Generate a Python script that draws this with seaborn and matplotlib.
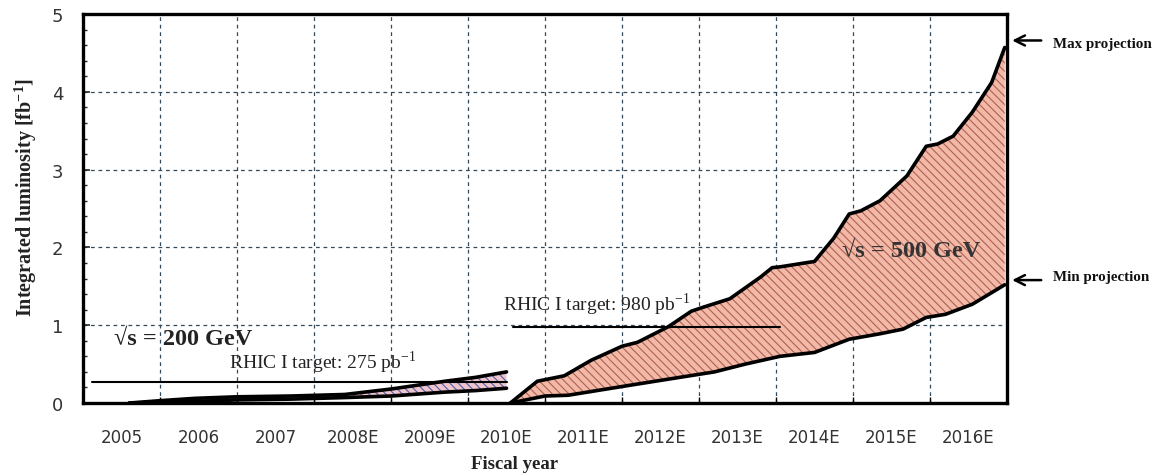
import matplotlib
matplotlib.use("Agg")
import matplotlib.pyplot as plt
import seaborn as sns
from matplotlib.ticker import MultipleLocator, FixedLocator

# fiscal years, one column each
years = ["2005", "2006", "2007", "2008E", "2009E", "2010E",
         "2011E", "2012E", "2013E", "2014E", "2015E", "2016E"]

# sqrt(s) = 200 GeV band (x in column units, y in fb^-1)
run200_x = [0.6, 1.0, 1.45, 2.0, 2.7, 3.4, 4.0, 4.7, 5.1, 5.5]
run200_hi = [0.0, 0.03, 0.06, 0.08, 0.09, 0.11, 0.18, 0.28, 0.33, 0.40]
run200_lo = [0.0, 0.01, 0.02, 0.04, 0.05, 0.07, 0.09, 0.14, 0.16, 0.19]

# sqrt(s) = 500 GeV projections
max_x = [5.55, 5.9, 6.25, 6.6, 7.0, 7.2, 7.6, 7.9, 8.05, 8.4, 8.8, 8.95,
         9.05, 9.5, 9.75, 9.95, 10.1, 10.35, 10.7, 10.95, 11.1, 11.3,
         11.55, 11.8, 11.97]
max_y = [0.0, 0.28, 0.35, 0.55, 0.73, 0.78, 0.98, 1.18, 1.23, 1.34, 1.62,
         1.74, 1.75, 1.82, 2.12, 2.43, 2.47, 2.60, 2.92, 3.30, 3.33, 3.43,
         3.74, 4.12, 4.57]
min_x = [5.55, 6.0, 6.3, 7.05, 7.75, 8.2, 8.6, 9.05, 9.5, 9.95, 10.35,
         10.65, 10.95, 11.2, 11.55, 11.97]
min_y = [0.0, 0.09, 0.10, 0.22, 0.33, 0.40, 0.50, 0.60, 0.65, 0.82, 0.89,
         0.95, 1.10, 1.14, 1.27, 1.52]

# RHIC I targets (fb^-1) and their spans
target200 = 0.275
target200_span = [0.12, 5.5]
target500 = 0.98
target500_span = [5.58, 9.05]

sns.set_theme(style="white")
plt.rcParams["font.family"] = ["Liberation Serif", "DejaVu Serif"]
plt.rcParams["hatch.linewidth"] = 0.8
plt.rcParams["mathtext.fontset"] = "custom"
plt.rcParams["mathtext.rm"] = "Liberation Serif"
plt.rcParams["mathtext.bf"] = "Liberation Serif:bold"

fig = plt.figure(figsize=(11.59, 4.77), dpi=100)
ax = fig.add_axes([0.0716, 0.153, 0.7973, 0.8155])

# bands
ax.fill(run200_x + run200_x[::-1], run200_hi + run200_lo[::-1],
        facecolor="#efc4cc", edgecolor="#4f5fa8", hatch="\\\\\\\\",
        linewidth=0, zorder=2)
ax.fill(max_x + min_x[::-1], max_y + min_y[::-1],
        facecolor="#f2b8a8", edgecolor="#b0604f", hatch="\\\\\\\\",
        linewidth=0, zorder=2)

for xs, ys in [(run200_x, run200_hi), (run200_x, run200_lo),
               (max_x, max_y), (min_x, min_y)]:
    sns.lineplot(x=xs, y=ys, color="black", linewidth=2.6, sort=False,
                 ax=ax, zorder=3)

sns.lineplot(x=target200_span, y=[target200, target200], color="black",
             linewidth=1.5, ax=ax, zorder=3)
sns.lineplot(x=target500_span, y=[target500, target500], color="black",
             linewidth=1.5, ax=ax, zorder=3)

ax.set_xlim(0, 12)
ax.set_ylim(0, 5)

ax.xaxis.set_major_locator(FixedLocator([i + 0.5 for i in range(len(years))]))
ax.set_xticklabels(years)
ax.xaxis.set_minor_locator(FixedLocator(range(1, 12)))
ax.yaxis.set_major_locator(MultipleLocator(1))
ax.yaxis.set_minor_locator(MultipleLocator(0.2))

ax.grid(which="minor", axis="x", linestyle=(0, (3, 3)), color="#34495a",
        linewidth=0.9)
ax.grid(which="major", axis="y", linestyle=(0, (3, 3)), color="#34495a",
        linewidth=0.9)
ax.set_axisbelow(True)

ax.tick_params(axis="x", which="major", length=0, pad=18, labelsize=12,
               labelcolor="#333333", labelfontfamily="DejaVu Sans")
ax.tick_params(axis="x", which="minor", direction="in", length=4,
               width=1, color="black", bottom=True)
ax.tick_params(axis="y", which="major", direction="in", length=5, width=1.2,
               pad=14, labelsize=13, labelcolor="#333333",
               labelfontfamily="DejaVu Sans", left=True)
ax.tick_params(axis="y", which="minor", direction="in", length=3, width=1,
               left=True)

for s in ax.spines.values():
    s.set_linewidth(2.4)
    s.set_color("black")

ax.set_xlabel("")
ax.set_ylabel("")
fig.text(0.022, 0.585, "Integrated luminosity [fb$^{\\mathbf{-1}}$]",
         rotation=90, ha="center", va="center", fontsize=14.5,
         fontweight="bold", color="#222222")
fig.text(0.444, 0.027, "Fiscal year", ha="center", va="center",
         fontsize=13.5, fontweight="bold", color="#222222")

# annotations
ax.text(0.4, 0.83, "√s = 200 GeV", fontsize=17.5, fontweight="bold",
        color="#222222", va="center")
ax.text(1.9, 0.36, "RHIC I target: 275 pb$^{-1}$", fontsize=14,
        color="#222222", va="bottom")
ax.text(5.45, 1.1, "RHIC I target: 980 pb$^{-1}$", fontsize=14,
        color="#222222", va="bottom")
ax.text(10.75, 1.96, "√s = 500 GeV", fontsize=17.5, fontweight="bold",
        color="#333333", ha="center", va="center")

ax.annotate("", xy=(12.03, 4.66), xytext=(12.48, 4.66),
            arrowprops=dict(arrowstyle="->", lw=1.8, color="black",
                            mutation_scale=18),
            annotation_clip=False)
ax.text(12.6, 4.62, "Max projection", fontsize=10.8, fontweight="bold",
        va="center", ha="left", color="#111111", clip_on=False)
ax.annotate("", xy=(12.03, 1.58), xytext=(12.48, 1.58),
            arrowprops=dict(arrowstyle="->", lw=1.8, color="black",
                            mutation_scale=18),
            annotation_clip=False)
ax.text(12.6, 1.62, "Min projection", fontsize=10.8, fontweight="bold",
        va="center", ha="left", color="#111111", clip_on=False)

fig.savefig("out.png", dpi=100, facecolor="white")
